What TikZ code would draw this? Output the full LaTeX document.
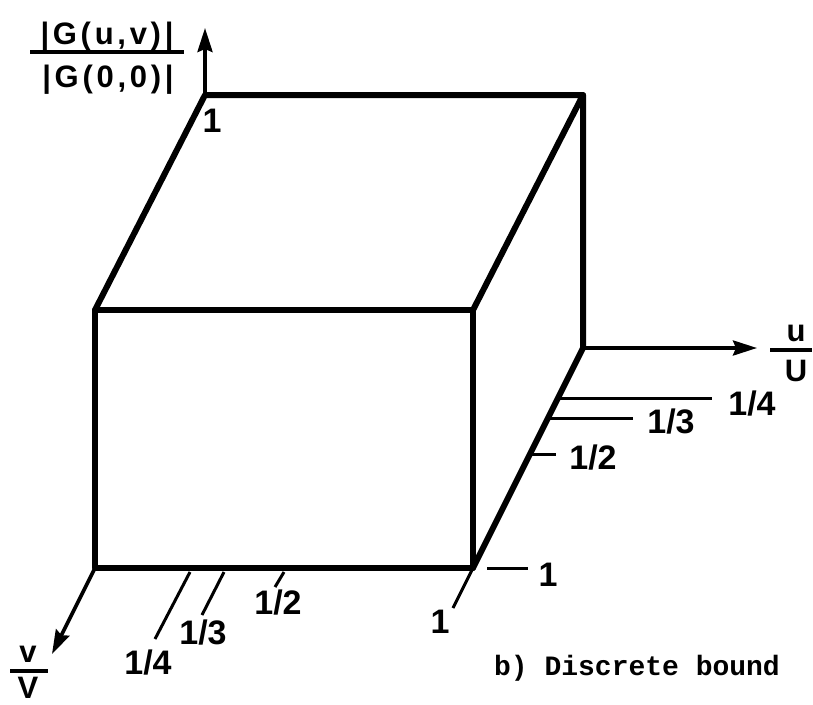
\documentclass[tikz,border=0pt]{standalone}
\usepackage{fontspec}
\setmainfont{Liberation Sans}
\newfontfamily\capfont{Liberation Mono}
\usetikzlibrary{arrows.meta}
\begin{document}
\begin{tikzpicture}[x=1pt,y=-1pt,
  edge/.style={line width=6pt, line cap=round, line join=round},
  axis/.style={line width=3.6pt, -{Stealth[length=24pt,width=15pt,inset=3pt]}},
  tickln/.style={line width=3pt},
  lab/.style={font=\fontsize{34}{36}\selectfont\bfseries, inner sep=0pt},
  axlab/.style={font=\fontsize{31}{33}\selectfont\bfseries, inner sep=0pt},
  glab/.style={font=\fontsize{31}{33}\selectfont\bfseries\addfontfeature{LetterSpace=12}, inner sep=0pt}
]
\useasboundingbox (0,0) rectangle (813,704);
% box corners
\coordinate (FTL) at (95,310);
\coordinate (FTR) at (473,310);
\coordinate (FBR) at (473,568);
\coordinate (FBL) at (95,568);
\coordinate (BTL) at (205,95);
\coordinate (BTR) at (583,95);
\coordinate (BBR) at (583,348);
% axis ends
\coordinate (ZT) at (205,28);
\coordinate (UT) at (757,348);
\coordinate (VT) at (52,654);
% axes
\draw[axis] (BTL) -- (ZT);
\draw[axis] (BBR) -- (UT);
\draw[axis] (FBL) -- (VT);
% box
\draw[edge] (FTL) -- (FTR) -- (FBR) -- (FBL) -- cycle;
\draw[edge] (FTL) -- (BTL) -- (BTR) -- (FTR);
\draw[edge] (BTR) -- (BBR) -- (FBR);
% ticks on u side
\coordinate (ua1) at (558,398); \coordinate (ua2) at (712,398);
\coordinate (ub1) at (548,418); \coordinate (ub2) at (633,418);
\coordinate (uc1) at (530,454); \coordinate (uc2) at (556,454);
\coordinate (ud1) at (487,568); \coordinate (ud2) at (528,568);
\draw[tickln] (ua1) -- (ua2);
\draw[tickln] (ub1) -- (ub2);
\draw[tickln] (uc1) -- (uc2);
\draw[tickln] (ud1) -- (ud2);
% ticks on v side
\coordinate (va1) at (190,572); \coordinate (va2) at (155,639);
\coordinate (vb1) at (224,572); \coordinate (vb2) at (202,615);
\coordinate (vc1) at (284,572); \coordinate (vc2) at (275,587);
\coordinate (vd2) at (453,608);
\draw[tickln] (va1) -- (va2);
\draw[tickln] (vb1) -- (vb2);
\draw[tickln] (vc1) -- (vc2);
\draw[tickln] (FBR) -- (vd2);
% tick labels
\node[lab] (lu4) at (752,404) {1/4};
\node[lab] (lu3) at (671,422) {1/3};
\node[lab] (lu2) at (593,458) {1/2};
\node[lab] (lu1) at (548,575) {1};
\node[lab] (lv4) at (148,663) {1/4};
\node[lab] (lv3) at (203,633) {1/3};
\node[lab] (lv2) at (278,603) {1/2};
\node[lab] (lv1) at (440,622) {1};
\node[lab] (lz1) at (212,121) {1};
% axis labels
\node[glab] (gnum) at (107,37) {|G(u,v)|};
\coordinate (gl1) at (30,52); \coordinate (gl2) at (184,52);
\draw[line width=3.4pt] (gl1) -- (gl2);
\node[glab] (gden) at (108,80) {|G(0,0)|};
\node[axlab] (un) at (796,333) {u};
\coordinate (ul1) at (770,350); \coordinate (ul2) at (812,350);
\draw[line width=3.4pt] (ul1) -- (ul2);
\node[axlab] (ud) at (796,371) {U};
\node[axlab] (vn) at (28,654) {v};
\coordinate (vl1) at (10,671); \coordinate (vl2) at (48,671);
\draw[line width=3.4pt] (vl1) -- (vl2);
\node[axlab] (vd) at (28,688) {V};
% caption
\node[font=\capfont\bfseries\fontsize{28}{30}\selectfont, inner sep=0pt] (cap) at (637,668) {b) Discrete bound};
\end{tikzpicture}
\end{document}
